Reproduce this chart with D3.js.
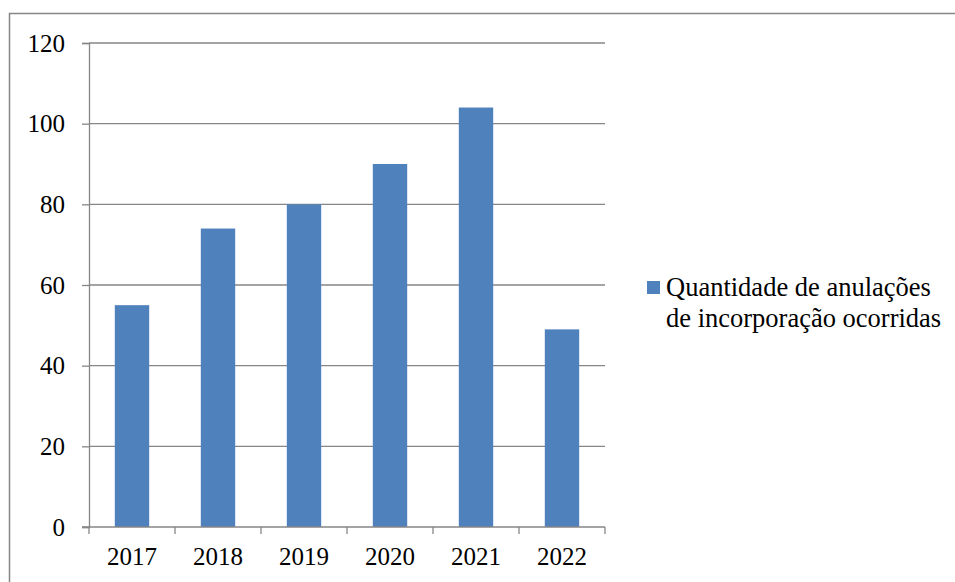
<!DOCTYPE html>
<html>
<head>
<meta charset="utf-8">
<script src="https://cdn.jsdelivr.net/npm/d3@7"></script>
<style>
  body { margin: 0; background: #fff; }
</style>
</head>
<body>
<svg id="chart" width="955" height="582"></svg>
<script>
// Data
var years = ["2017", "2018", "2019", "2020", "2021", "2022"];
var counts = [55, 74, 80, 90, 104, 49];
var yTicks = [0, 20, 40, 60, 80, 100, 120];
var seriesName = ["Quantidade de anulações", "de incorporação ocorridas"];

var barFill = "#4F81BD";
var lineCol = "#868686";
var serif = "'Liberation Serif', serif";

var svg = d3.select("#chart");

// outer chart border
svg.append("rect")
    .attr("x", 9.5).attr("y", 13.5)
    .attr("width", 960).attr("height", 600)
    .attr("fill", "none")
    .attr("stroke", lineCol)
    .attr("stroke-width", 1.5);

var pLeft = 89, pRight = 605, pTop = 43, pBottom = 527;

var x = d3.scaleBand().domain(years).range([pLeft, pRight]).paddingInner(0.6).paddingOuter(0.3);
var xb = d3.scaleBand().domain(years).range([pLeft, pRight]);
var y = d3.scaleLinear().domain([0, 120]).range([pBottom, pTop]);

// gridlines
svg.append("g").selectAll("line")
    .data(yTicks.filter(function(d) { return d > 0; }))
    .enter().append("line")
    .attr("x1", pLeft).attr("x2", pRight)
    .attr("y1", function(d) { return y(d); })
    .attr("y2", function(d) { return y(d); })
    .attr("stroke", lineCol).attr("stroke-width", 1.3);

// bars
svg.append("g").selectAll("rect")
    .data(counts)
    .enter().append("rect")
    .attr("x", function(d, i) { return x(years[i]); })
    .attr("y", function(d) { return y(d); })
    .attr("width", x.bandwidth())
    .attr("height", function(d) { return pBottom - y(d); })
    .attr("fill", barFill);

// y axis
var yAxis = svg.append("g")
    .attr("transform", "translate(" + pLeft + ",0)")
    .call(d3.axisLeft(y).tickValues(yTicks).tickSize(7).tickPadding(17));
yAxis.select(".domain").attr("stroke", lineCol).attr("stroke-width", 1.3);
yAxis.selectAll(".tick line").attr("stroke", lineCol).attr("stroke-width", 1.3);
yAxis.selectAll("text").attr("fill", "#000")
    .style("font-family", serif).style("font-size", "25px");

// x axis line + ticks at category boundaries
svg.append("line")
    .attr("x1", pLeft - 7).attr("x2", pRight)
    .attr("y1", pBottom).attr("y2", pBottom)
    .attr("stroke", lineCol).attr("stroke-width", 1.3);
var bounds = years.map(function(d) { return xb(d); }).concat([pRight]);
svg.append("g").selectAll("line")
    .data(bounds)
    .enter().append("line")
    .attr("x1", function(d) { return d; }).attr("x2", function(d) { return d; })
    .attr("y1", pBottom).attr("y2", pBottom + 7)
    .attr("stroke", lineCol).attr("stroke-width", 1.3);

svg.append("g").selectAll("text")
    .data(years)
    .enter().append("text")
    .attr("x", function(d) { return xb(d) + xb.bandwidth() / 2; })
    .attr("y", 565)
    .attr("text-anchor", "middle")
    .style("font-family", serif).style("font-size", "25px")
    .text(function(d) { return d; });

// legend
svg.append("rect")
    .attr("x", 647).attr("y", 281)
    .attr("width", 13).attr("height", 13)
    .attr("fill", barFill);
svg.append("g").selectAll("text")
    .data(seriesName)
    .enter().append("text")
    .attr("x", 666)
    .attr("y", function(d, i) { return 296 + i * 31; })
    .style("font-family", serif).style("font-size", "26.5px")
    .text(function(d) { return d; });
</script>
</body>
</html>
